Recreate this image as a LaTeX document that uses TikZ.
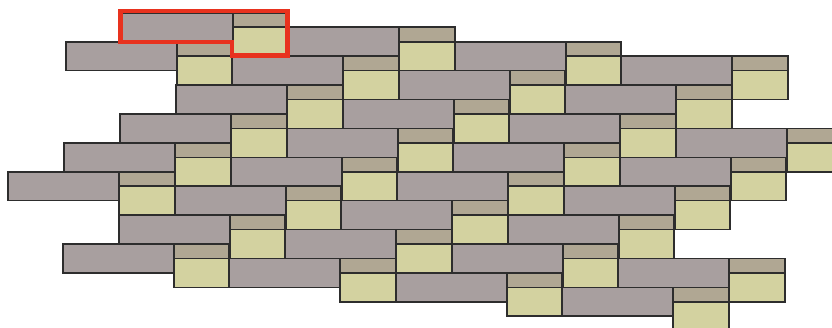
\documentclass[tikz,border=0pt]{standalone}
\definecolor{graytile}{RGB}{168,159,159}
\definecolor{tantile}{RGB}{176,167,147}
\definecolor{yeltile}{RGB}{211,210,160}
\definecolor{edgecol}{RGB}{45,45,45}
\definecolor{redline}{RGB}{232,50,30}
\begin{document}
\begin{tikzpicture}[x=1pt,y=-1pt,
  tile/.style={draw=edgecol,line width=1.6pt,line join=miter},
  longtile/.style={tile,fill=graytile},
  captile/.style={tile,fill=tantile},
  basetile/.style={tile,fill=yeltile},
  outline/.style={draw=redline,line width=4.5pt,line join=miter}]
\useasboundingbox (0,0) rectangle (832,327);
\begin{scope}
\clip (0,0) rectangle (832,327);
\foreach \n/\mlo/\mhi in {-1/0/3,0/0/3,1/1/4,2/1/4,3/1/4,4/1/4,5/2/5,6/2/5}{
  \foreach \m in {\mlo,...,\mhi}{
    \pgfmathsetmacro\px{65.7+166.5*\m-56*\n}
    \pgfmathsetmacro\py{41.7+14.45*\m+28.9*\n}
    \path[longtile] (\px,\py) rectangle ++(111,28.9);
    \path[captile] (\px+111,\py) rectangle ++(55.5,14.45);
    \path[basetile] (\px+111,\py+14.45) rectangle ++(55.5,28.9);
  }
}
\end{scope}
\path[outline] (120.3,11.2) -- (287.5,11.2) -- (287.5,55.6) -- (232.2,55.6) -- (232.2,41.8) -- (120.3,41.8) -- cycle;
\end{tikzpicture}
\end{document}
